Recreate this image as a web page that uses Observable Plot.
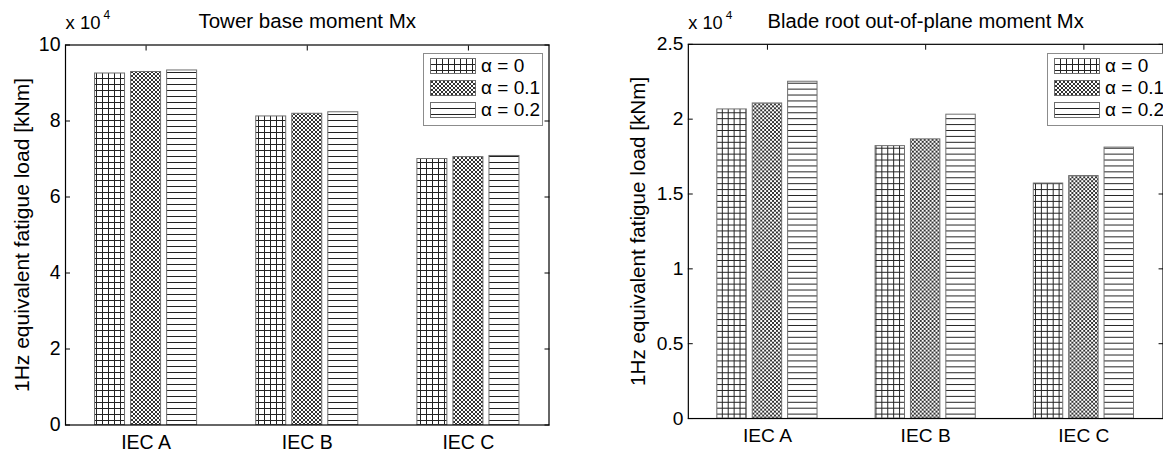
<!DOCTYPE html>
<html><head><meta charset="utf-8">
<script src="https://cdn.jsdelivr.net/npm/d3@7"></script>
<script src="https://cdn.jsdelivr.net/npm/@observablehq/plot@0.6"></script>
<style>
html,body{margin:0;padding:0;background:#fff;}
#root{position:relative;width:1163px;height:454px;overflow:hidden;font-family:"Liberation Sans",Arial,sans-serif;}
.panel{position:absolute;top:0;}
.legend{position:absolute;background:#fff;border:1px solid #8c8c8c;box-sizing:border-box;}
.legend .row{position:absolute;left:6px;height:16px;display:flex;align-items:center;white-space:nowrap;}
.legend svg{display:block}
.legend span{font-size:19px;margin-left:4px;color:#000;line-height:16px;}
</style></head><body>
<svg width="0" height="0" style="position:absolute">
 <defs>
  <pattern id="pat0" patternUnits="userSpaceOnUse" width="6" height="6">
    <rect width="6" height="6" fill="#fff"/>
    <path d="M0.5 0V6M0 0.5H6" stroke="#222" stroke-width="1"/>
  </pattern>
  <pattern id="pat1" patternUnits="userSpaceOnUse" width="4" height="4">
    <rect width="4" height="4" fill="#fff"/>
    <path d="M0 0L4 4M4 0L0 4" stroke="#333" stroke-width="1"/>
  </pattern>
  <pattern id="pat2" patternUnits="userSpaceOnUse" width="6" height="6">
    <rect width="6" height="6" fill="#fff"/>
    <path d="M0 0.5H6" stroke="#222" stroke-width="1"/>
  </pattern>
 </defs>
</svg>
<div id="root"></div>
<script>
// ---- data (values in units of 10^4 kNm) ----
const groups = ["IEC A", "IEC B", "IEC C"];
const seriesLabels = ["α = 0", "α = 0.1", "α = 0.2"];
const towerAlpha0  = [9.25, 8.12, 7.00];
const towerAlpha01 = [9.29, 8.19, 7.05];
const towerAlpha02 = [9.33, 8.23, 7.08];
const bladeAlpha0  = [2.065, 1.82, 1.57];
const bladeAlpha01 = [2.105, 1.865, 1.62];
const bladeAlpha02 = [2.25, 2.03, 1.81];
const towerTicks = [0, 2, 4, 6, 8, 10];
const bladeTicks = [0, 0.5, 1, 1.5, 2, 2.5];
const towerTitle = "Tower base moment Mx";
const bladeTitle = "Blade root out-of-plane moment Mx";
const yLabel = "1Hz equivalent fatigue load [kNm]";
const exponentBase = "x 10";
const exponentPower = "4";

const patterns = ["url(#pat0)", "url(#pat1)", "url(#pat2)"];
const step = 0.2236, half = 0.093;
const groupPos = groups.map((g, i) => i + 1);

function panel(o) {
  const rows = [];
  o.values.forEach((arr, s) => arr.forEach((v, g) => rows.push({g: g + 1, s, v})));
  const noText = () => "";
  const plot = Plot.plot({
    width: o.width, height: 454,
    marginTop: 44.5, marginBottom: 29.5, marginLeft: o.marginLeft, marginRight: o.marginRight,
    style: {fontFamily: "'Liberation Sans', Arial, sans-serif", fontSize: "19px", color: "#000", background: "transparent", overflow: "visible"},
    x: {domain: [0.5, 3.5], label: null},
    y: {domain: [0, o.ticks[o.ticks.length - 1]], label: null},
    marks: [
      Plot.axisY({anchor: "left", ticks: o.ticks, tickSize: 0, tickPadding: 5, tickFormat: o.fmt, label: null, fontSize: 19.5}),
      Plot.axisY({anchor: "left", ticks: o.ticks, tickSize: -5, tickFormat: noText, label: null}),
      Plot.axisY({anchor: "right", ticks: o.ticks, tickSize: -5, tickFormat: noText, label: null}),
      Plot.axisX({anchor: "bottom", ticks: groupPos, tickSize: 0, tickPadding: 10, tickFormat: i => groups[i - 1], label: null, fontSize: 19.5}),
      Plot.axisX({anchor: "bottom", ticks: groupPos, tickSize: -5, tickFormat: noText, label: null}),
      Plot.axisX({anchor: "top", ticks: groupPos, tickSize: -5, tickFormat: noText, label: null}),
      ...[0, 1, 2].map(s => Plot.rect(rows.filter(r => r.s === s), {
        x1: r => r.g + (s - 1) * step - half,
        x2: r => r.g + (s - 1) * step + half,
        y1: 0, y2: "v",
        fill: patterns[s], stroke: "#6e6e6e", strokeWidth: 1
      })),
      Plot.frame({stroke: "#000", strokeWidth: 1.2}),
      Plot.text([o.title], {frameAnchor: "top", textAnchor: "middle", lineAnchor: "bottom", dy: -17, fontSize: 20.5}),
      Plot.text([exponentBase], {frameAnchor: "top-left", textAnchor: "start", lineAnchor: "bottom", dy: -16, fontSize: 18.5}),
      Plot.text([exponentPower], {frameAnchor: "top-left", textAnchor: "start", lineAnchor: "bottom", dx: 38, dy: -26, fontSize: 12}),
      Plot.text([yLabel], {frameAnchor: "left", rotate: -90, textAnchor: "middle", lineAnchor: "middle", dx: o.labelDx, fontSize: 21})
    ]
  });
  const div = document.createElement("div");
  div.className = "panel";
  div.style.left = o.left + "px";
  div.appendChild(plot);
  document.getElementById("root").appendChild(div);

  // legend inside the axes (top-right)
  const lg = document.createElement("div");
  lg.className = "legend";
  lg.style.left = o.legendLeft + "px";
  lg.style.top = "53px";
  lg.style.width = "120px";
  lg.style.height = "73px";
  seriesLabels.forEach((lab, s) => {
    const row = document.createElement("div");
    row.className = "row";
    row.style.top = (4 + s * 22) + "px";
    row.innerHTML = `<svg width="47" height="16"><rect x="0.5" y="0.5" width="45" height="15" fill="${patterns[s]}" stroke="#6e6e6e"/></svg><span>${lab}</span>`;
    lg.appendChild(row);
  });
  document.getElementById("root").appendChild(lg);
}

panel({
  values: [towerAlpha0, towerAlpha01, towerAlpha02], ticks: towerTicks, fmt: d => String(d),
  title: towerTitle, width: 580, marginLeft: 65, marginRight: 31.5, left: 0, labelDx: -43.5, legendLeft: 423
});
panel({
  values: [bladeAlpha0, bladeAlpha01, bladeAlpha02], ticks: bladeTicks, fmt: d => String(d),
  title: bladeTitle, width: 592, marginLeft: 109.5, marginRight: 0.5, left: 580, labelDx: -51, legendLeft: 1047
});
</script>
</body></html>
